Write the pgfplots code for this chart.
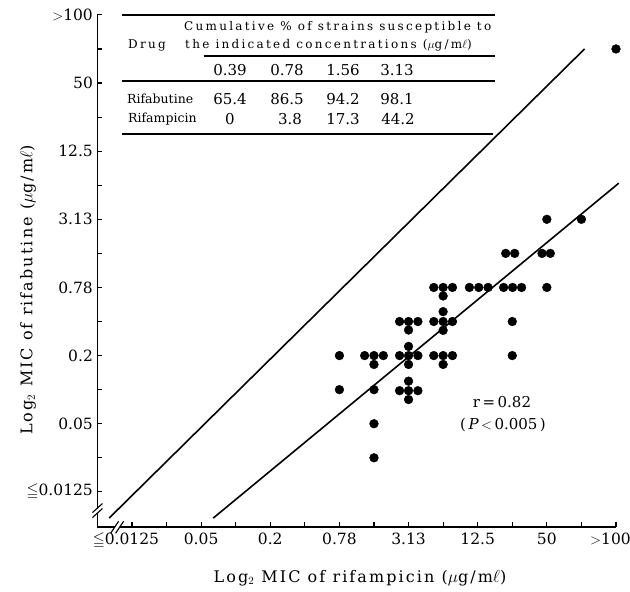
\documentclass[border=0pt]{standalone}
\usepackage{fontspec}
\setmainfont{DejaVu Serif}
\newfontfamily\tabfont[LetterSpace=19]{DejaVu Serif}
\newfontfamily\titlefont[LetterSpace=13]{DejaVu Serif}
\usepackage{amssymb}
\usepackage{pgfplots}
\pgfplotsset{compat=1.18}
\begin{document}
\begin{tikzpicture}[x=1pt,y=1pt]
\useasboundingbox (0,0) rectangle (630,592);
\begin{axis}[
  at={(97.4pt,64.7pt)}, anchor=south west,
  scale only axis, width=518.6pt, height=512.4pt,
  xmin=-1, xmax=14, ymin=-1.04, ymax=14,
  axis lines=left, axis line style={-, line width=1.6pt},
  xtick={0,...,14}, ytick={0,...,14},
  xticklabels={\llap{$\leqq$}0.0125,,0.05,,0.2,,0.78,,3.13,,12.5,,50,,\llap{$>$}100},
  yticklabels={$\leqq$0.0125,,0.05,,0.2,,0.78,,3.13,,12.5,,50,,$>$100},
  tick align=inside, major tick length=5pt,
  tick style={line width=1.1pt, black},
  tick label style={font=\fontsize{15.5}{17}\selectfont},
  xticklabel style={yshift=-2pt},
  yticklabel style={xshift=-1pt},
  clip=false,
]
% scatter of strains (log2 index: 0 = 0.0125, 2 = 0.05, ..., 12 = 50, 14 = >100)
\addplot[only marks, mark=*, mark size=4.4pt, black] coordinates {
 (6,4) (6,3)
 (6.73,4) (7,4) (7.27,4) (7,3.74) (7,3) (7,2) (7,1)
 (7.74,5) (8,5) (8.27,5) (8,4.75)
 (7.74,4) (8,4) (8.27,4) (8,4.27) (8,3.74)
 (7.74,2.97) (8,2.97) (8.27,2.97) (8,3.25) (8,2.71)
 (8.73,6) (9,6) (9.27,6) (9,5.75)
 (8.73,5) (9,5) (9.27,5) (9,5.29) (9,4.74)
 (8.73,4) (9,4) (9.27,4) (9,3.74)
 (9.76,6) (10.03,6) (10.3,6)
 (10.75,6) (11.01,6) (11.27,6) (11,5) (11,4) (10.81,7) (11.07,7)
 (11.86,7) (12.1,7) (12,6) (12,8)
 (13,8)
 (14,13)
};
% line of equality
\addplot[black, line width=1.6pt] coordinates {(-0.66,-0.77) (13.09,13.0)};
% regression line
\addplot[black, line width=1.6pt] coordinates {(2.35,-0.77) (14.08,9.06)};
% axis breaks
\draw[white, line width=3.5pt] ([xshift=-5pt,yshift=-4.5pt]axis cs:-1,-0.55) -- ([xshift=5pt,yshift=4.5pt]axis cs:-1,-0.55);
\draw[line width=1.1pt] ([xshift=-5pt,yshift=-7pt]axis cs:-1,-0.55) -- ([xshift=5pt,yshift=2pt]axis cs:-1,-0.55);
\draw[line width=1.1pt] ([xshift=-5pt,yshift=-2pt]axis cs:-1,-0.55) -- ([xshift=5pt,yshift=7pt]axis cs:-1,-0.55);
\draw[white, line width=3.5pt] ([xshift=-4pt,yshift=-6pt]axis cs:-0.43,-1.04) -- ([xshift=4pt,yshift=6pt]axis cs:-0.43,-1.04);
\draw[line width=1.1pt] ([xshift=-6.5pt,yshift=-6pt]axis cs:-0.43,-1.04) -- ([xshift=1.5pt,yshift=6pt]axis cs:-0.43,-1.04);
\draw[line width=1.1pt] ([xshift=-1.5pt,yshift=-6pt]axis cs:-0.43,-1.04) -- ([xshift=6.5pt,yshift=6pt]axis cs:-0.43,-1.04);
\end{axis}
% correlation text
\node[font=\fontsize{15}{17}\selectfont] at (502,190.3) {r\,=\,0.82};
\node[font=\fontsize{15}{17}\selectfont] at (503,167) {(\,$\mathit{P}$\,$<$\,0.005\,)};
% axis titles
\node[font=\titlefont\fontsize{16}{18}\selectfont] at (360,14) {Log$_2$ MIC of rifampicin ($\mu$g/m$\ell$)};
\node[font=\titlefont\fontsize{16}{18}\selectfont, rotate=90] at (28,302) {Log$_2$ MIC of rifabutine ($\mu$g/m$\ell$)};
% inset table
\draw[line width=1.1pt] (122,577) -- (495,577);
\node[anchor=west, font=\tabfont\fontsize{12}{14}\selectfont, inner sep=0pt] at (184,565.3) {Cumulative \% of strains susceptible to};
\node[anchor=west, font=\tabfont\fontsize{12}{14}\selectfont, inner sep=0pt] at (128,547) {Drug};
\node[anchor=west, font=\tabfont\fontsize{12}{14}\selectfont, inner sep=0pt] at (185,547) {the indicated concentrations ($\mu$g/m$\ell$)};
\draw[line width=1.1pt] (204,536) -- (495,536);
\begin{scope}[every node/.style={font=\fontsize{15}{17}\selectfont, inner sep=0pt}]
\node at (230,522) {0.39};
\node at (287,522) {0.78};
\node at (343,522) {1.56};
\node at (397,522) {3.13};
\node at (230,493) {65.4};
\node at (287,493) {86.5};
\node at (343,493) {94.2};
\node at (397,493) {98.1};
\node at (230,473) {0};
\node at (290,473) {3.8};
\node at (343,473) {17.3};
\node at (398,473) {44.2};
\end{scope}
\draw[line width=1.1pt] (122,511) -- (495,511);
\node[anchor=west, font=\fontsize{12.5}{14}\selectfont, inner sep=0pt] at (127,493) {Rifabutine};
\node[anchor=west, font=\fontsize{12.5}{14}\selectfont, inner sep=0pt] at (128,473) {Rifampicin};
\draw[line width=1.1pt] (122,458) -- (493,458);
\end{tikzpicture}
\end{document}
